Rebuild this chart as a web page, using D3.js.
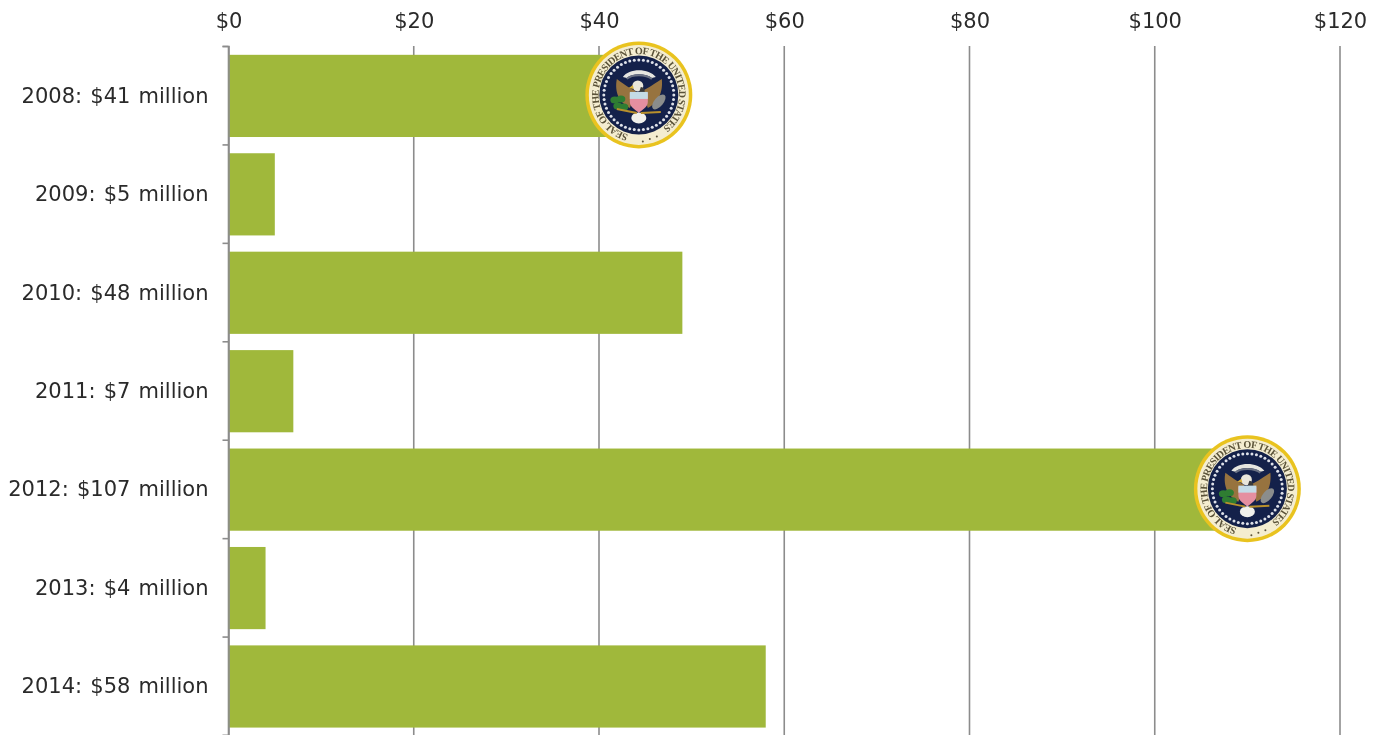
<!DOCTYPE html>
<html>
<head>
<meta charset="utf-8">
<script src="https://cdnjs.cloudflare.com/ajax/libs/d3/7.8.5/d3.min.js"></script>
<style>
  html, body { margin: 0; padding: 0; background: #fff; overflow: hidden; }
  /* the reference is a soft upscaled image */
  svg { filter: blur(0.5px); }
  text { font-family: "DejaVu Sans", sans-serif; font-size: 21px; fill: #2a2a2a; }
  .grid line { stroke: #8c8c8c; stroke-width: 1.6px; }
  .grid path { stroke: #8c8c8c; stroke-width: 1.6px; fill: none; }
  .axis path { display: none; }
  .bar { fill: #a0b83b; }
</style>
</head>
<body>
<script>
/* values */
var years = ["2008", "2009", "2010", "2011", "2012", "2013", "2014"]
var yearLabels = ["2008: $41 million", "2009: $5 million", "2010: $48 million", "2011: $7 million",
                  "2012: $107 million", "2013: $4 million", "2014: $58 million"]
var barValues = [41, 5, 49, 7, 107, 4, 58]
var xTicks = [0, 20, 40, 60, 80, 100, 120]
var sealYears = ["2008", "2012"]
var sealValues = [44.3, 110]

var width = 1388, height = 735
var margin = {top: 46, left: 228.5, right: 48, bottom: 0}

var x = d3.scaleLinear().domain([0, 120]).range([margin.left, 1340])
var y = d3.scaleBand().domain(years).range([margin.top + 0.7, height + 0.7]).paddingInner(0.165).paddingOuter(0.0825)
var yEdges = d3.scaleLinear().domain([0, years.length]).range([margin.top, height])

var svg = d3.select("body").append("svg")
  .attr("width", width)
  .attr("height", height)

/* vertical grid lines sit behind the bars */
svg.append("g")
  .attr("class", "grid")
  .selectAll("line")
  .data(xTicks)
  .enter()
  .append("line")
  .attr("x1", function(d) { return x(d) })
  .attr("x2", function(d) { return x(d) })
  .attr("y1", margin.top)
  .attr("y2", height)

svg.append("g")
  .selectAll("rect")
  .data(barValues)
  .enter()
  .append("rect")
  .attr("class", "bar")
  .attr("x", x(0))
  .attr("y", function(d, i) { return y(years[i]) })
  .attr("width", function(d) { return x(d) - x(0) })
  .attr("height", y.bandwidth())

/* top axis: dollar labels only */
var xAxis = d3.axisTop(x)
  .tickValues(xTicks)
  .tickSize(0)
  .tickPadding(0)
  .tickFormat(function(d) { return "$" + d })

svg.append("g")
  .attr("class", "axis")
  .attr("transform", "translate(0,28)")
  .call(xAxis)
  .selectAll("text")
  .style("font-family", '"DejaVu Sans", sans-serif')
  .style("font-size", "21px")

/* left axis: year labels */
var yAxis = d3.axisLeft(y)
  .tickSize(0)
  .tickPadding(0)
  .tickFormat(function(d, i) { return yearLabels[i] })

svg.append("g")
  .attr("class", "axis")
  .attr("transform", "translate(208.5,0)")
  .call(yAxis)
  .selectAll("text")
  .style("font-family", '"DejaVu Sans", sans-serif')
  .style("font-size", "21px")
  .style("word-spacing", "1.5px")

/* the tick marks between the categories, and the $0 line over the bars */
var edgeAxis = d3.axisLeft(yEdges)
  .ticks(years.length)
  .tickSize(6)
  .tickFormat("")

svg.append("g")
  .attr("class", "grid")
  .attr("transform", "translate(" + x(0) + ",0)")
  .call(edgeAxis)

/* presidential seals on the two election years */
sealYears.forEach(function(year, i) {
  drawSeal(x(sealValues[i]), y(year) + y.bandwidth() / 2 - 1, i)
})

function drawSeal(cx, cy, id)
{
  var g = svg.append("g")
    .attr("transform", "translate(" + cx + "," + cy + ")")

  g.append("circle").attr("r", 53.5).attr("fill", "#e9c31f")
  g.append("circle").attr("r", 50).attr("fill", "#f4edd0")
  g.append("circle").attr("r", 39.5).attr("fill", "#14214a")

  /* ring of white dots */
  g.selectAll("circle.dot")
    .data(d3.range(48))
    .enter()
    .append("circle")
    .attr("class", "dot")
    .attr("r", 1.5)
    .attr("fill", "#dfe2ea")
    .attr("cx", function(d) { return 35 * Math.cos(d / 48 * 2 * Math.PI) })
    .attr("cy", function(d) { return 35 * Math.sin(d / 48 * 2 * Math.PI) })

  /* lettering round the rim, starting just left of the bottom */
  var pathId = "sealRim" + id
  g.append("path")
    .attr("id", pathId)
    .attr("fill", "none")
    .attr("d", "M -10.6 39.6 A 41 41 0 0 1 10.6 -39.6 A 41 41 0 0 1 -10.6 39.6")
  g.append("text")
    .append("textPath")
    .attr("href", "#" + pathId)
    .attr("textLength", 218)
    .style("font-family", '"Liberation Serif", serif')
    .style("font-size", "10px")
    .style("font-weight", "bold")
    .style("fill", "#5a5238")
    .text("SEAL OF THE PRESIDENT OF THE UNITED STATES")

  /* three little marks at the foot of the rim */
  g.selectAll("circle.mark")
    .data([-1, 0, 1])
    .enter()
    .append("circle")
    .attr("class", "mark")
    .attr("r", 1)
    .attr("fill", "#5a5238")
    .attr("cx", function(d) { return 11 + d * 7 })
    .attr("cy", function(d) { return 44 - d * 2.5 })

  /* white arc of clouds over the eagle */
  g.append("path")
    .attr("d", "M -16 -18 C -10 -27 10 -27 17 -18 L 13 -17 C 7 -22 -7 -22 -12 -17 Z")
    .attr("fill", "#e6e6e0")
  g.append("path")
    .attr("d", "M -12 -16 C -7 -21 7 -21 13 -16")
    .attr("stroke", "#6b7284")
    .attr("stroke-width", 2)
    .attr("fill", "none")

  /* wings */
  g.append("path")
    .attr("d", "M -3 -4 C -10 -7 -18 -13 -22 -16 C -24 -6 -22 6 -9 13 Z")
    .attr("fill", "#97733f")
  g.append("path")
    .attr("d", "M 3 -4 C 10 -7 18 -13 23 -16 C 24 -6 22 6 9 13 Z")
    .attr("fill", "#97733f")

  /* head */
  g.append("circle").attr("cx", -1).attr("cy", -9).attr("r", 5.5).attr("fill", "#e9e6da")
  g.append("path").attr("d", "M -6 -10 L -10 -7 L -5 -6 Z").attr("fill", "#d9b13a")
  g.append("path").attr("d", "M 2 -8 C 5 -8 6 -5 6 -2 L 0 -2 Z").attr("fill", "#3a3a3a")

  /* shield */
  g.append("path")
    .attr("d", "M -9 -2 L 9 -2 L 9 7 C 9 12 3 15 0 18 C -3 15 -9 12 -9 7 Z")
    .attr("fill", "#e58fa0")
  g.append("rect").attr("x", -9).attr("y", -3).attr("width", 18).attr("height", 7).attr("fill", "#c4dbe6")

  /* tail feathers */
  g.append("ellipse").attr("cx", 0).attr("cy", 23).attr("rx", 7.5).attr("ry", 5.5).attr("fill", "#f1f1ec")

  /* olive branch */
  g.selectAll("ellipse.leaf")
    .data([[-24, 5], [-21, 11], [-18, 4], [-15, 12]])
    .enter()
    .append("ellipse")
    .attr("class", "leaf")
    .attr("cx", function(d) { return d[0] })
    .attr("cy", function(d) { return d[1] })
    .attr("rx", 4.5)
    .attr("ry", 3.5)
    .attr("fill", "#2f7d32")

  /* arrows */
  g.append("ellipse")
    .attr("rx", 9)
    .attr("ry", 4.5)
    .attr("transform", "translate(20,7) rotate(-50)")
    .attr("fill", "#8b8d8c")

  /* talons */
  g.append("path")
    .attr("d", "M -22 14 L -2 18 M 22 17 L 2 18")
    .attr("stroke", "#b8902c")
    .attr("stroke-width", 2)
    .attr("fill", "none")
}
</script>
</body>
</html>
